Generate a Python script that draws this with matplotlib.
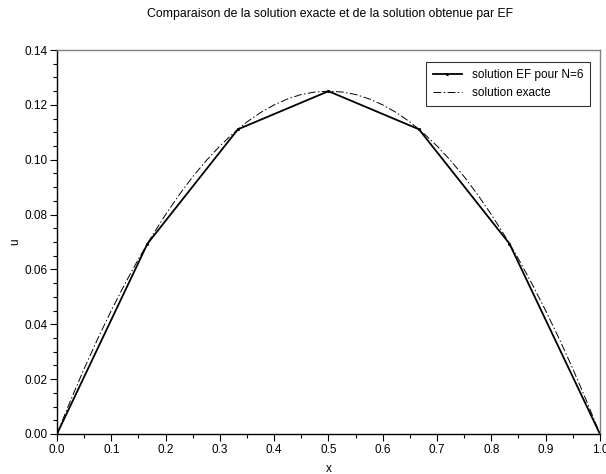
import matplotlib
matplotlib.use("Agg")
import matplotlib.pyplot as plt
from matplotlib.ticker import MultipleLocator, FormatStrFormatter

plt.rcParams['font.family'] = ['Liberation Sans', 'DejaVu Sans']

# Finite-element solution (N=6 nodes)
x_ef = [0.0, 0.1667, 0.3333, 0.5, 0.6667, 0.8333, 1.0]
u_ef = [0.0, 0.0694, 0.1111, 0.125, 0.1111, 0.0694, 0.0]

# Exact solution
x_ex = [0.0, 0.025, 0.05, 0.075, 0.1, 0.125, 0.15, 0.175, 0.2, 0.225, 0.25,
        0.275, 0.3, 0.325, 0.35, 0.375, 0.4, 0.425, 0.45, 0.475, 0.5,
        0.525, 0.55, 0.575, 0.6, 0.625, 0.65, 0.675, 0.7, 0.725, 0.75,
        0.775, 0.8, 0.825, 0.85, 0.875, 0.9, 0.925, 0.95, 0.975, 1.0]
u_ex = [0.0, 0.0122, 0.0238, 0.0347, 0.045, 0.0547, 0.0638, 0.0722, 0.08, 0.0872, 0.0938,
        0.0997, 0.105, 0.1097, 0.1138, 0.1172, 0.12, 0.1222, 0.1238, 0.1247, 0.125,
        0.1247, 0.1238, 0.1222, 0.12, 0.1172, 0.1138, 0.1097, 0.105, 0.0997, 0.0938,
        0.0872, 0.08, 0.0722, 0.0638, 0.0547, 0.045, 0.0347, 0.0238, 0.0122, 0.0]

title = "Comparaison de la solution exacte et de la solution obtenue par EF"
label_ef = "solution EF pour N=6"
label_ex = "solution exacte"

fig = plt.figure(figsize=(6.06, 4.74), dpi=100)
ax = fig.add_axes([0.094, 0.0844, 0.896, 0.810])

ax.plot(x_ef, u_ef, color='black', lw=1.3, marker='.', markersize=2.5, label=label_ef)
ax.plot(x_ex, u_ex, color='black', lw=0.7, linestyle=(0, (8, 2.5, 1.5, 2.5)), label=label_ex)

ax.set_xlim(0, 1)
ax.set_ylim(0, 0.14)
ax.xaxis.set_major_locator(MultipleLocator(0.1))
ax.xaxis.set_minor_locator(MultipleLocator(0.05))
ax.yaxis.set_major_locator(MultipleLocator(0.02))
ax.yaxis.set_minor_locator(MultipleLocator(0.005))
ax.xaxis.set_major_formatter(FormatStrFormatter('%.1f'))
ax.yaxis.set_major_formatter(FormatStrFormatter('%.2f'))
ax.tick_params(which='major', direction='out', length=5, width=0.8, labelsize=8.5, colors='black', pad=2)
ax.tick_params(which='minor', direction='out', length=3, width=0.8)
ax.tick_params(top=False, right=False, which='both')
for s in ['top', 'right']:
    ax.spines[s].set_color('#808080')
    ax.spines[s].set_linewidth(1.0)
for s in ['left', 'bottom']:
    ax.spines[s].set_color('black')
    ax.spines[s].set_linewidth(1.0)

ax.set_xlabel('x', fontsize=8.5)
ax.set_ylabel('u', fontsize=8.5)
ax.xaxis.set_label_coords(0.5, -0.075)
ax.yaxis.set_label_coords(-0.066, 0.5)
fig.text(0.545, 0.97, title, ha='center', va='center', fontsize=8.8)

leg = ax.legend(loc='upper right', fontsize=8.5, frameon=True, fancybox=False,
                edgecolor='black', handlelength=2.5, borderpad=0.6,
                bbox_to_anchor=(0.993, 0.985))
leg.get_frame().set_linewidth(0.8)

fig.savefig('out.png', dpi=100)
